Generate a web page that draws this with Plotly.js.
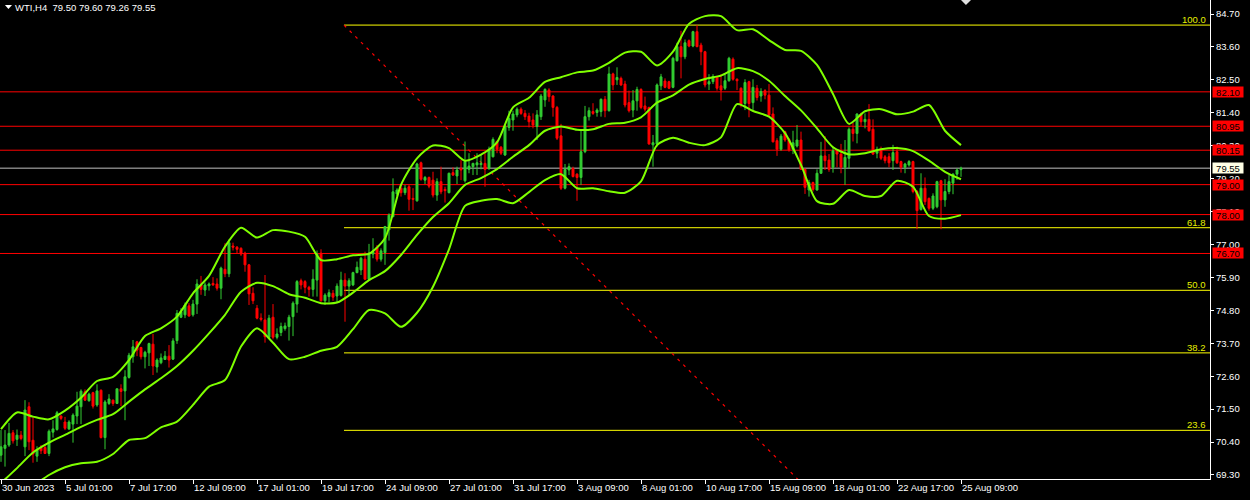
<!DOCTYPE html>
<html><head><meta charset="utf-8">
<script src="https://cdn.plot.ly/plotly-3.0.1.min.js"></script>
<style>html,body{margin:0;padding:0;background:#000;overflow:hidden}#chart{width:1250px;height:500px}</style>
</head><body><div id="chart"></div>
<script>
// ---- data ----
const symbolTitle = "WTI,H4  79.50 79.60 79.26 79.55";
const openP = [69.96,70.19,70.30,70.71,70.49,70.63,70.24,71.58,70.46,69.93,70.22,70.22,70.02,70.73,70.82,71.27,71.07,70.84,71.00,71.27,
71.58,72.08,71.78,72.05,71.64,72.13,70.55,71.69,71.80,71.69,72.18,72.11,72.56,73.25,73.75,73.56,73.25,73.38,73.67,72.91,
73.05,73.16,73.27,73.17,73.79,74.57,74.65,74.95,74.65,75.01,75.65,75.48,75.62,75.70,75.68,75.54,76.17,76.02,76.95,76.91,
76.87,76.71,76.32,75.37,74.87,74.54,74.48,73.90,74.57,73.90,74.06,74.19,74.26,74.59,75.01,75.79,75.76,75.57,75.50,75.81,
76.71,75.12,75.26,75.37,75.28,75.30,75.81,75.61,75.65,76.06,76.15,76.51,75.84,76.68,76.90,76.51,76.73,77.49,77.93,78.69,
78.88,78.73,78.93,78.54,78.46,79.73,79.15,79.24,79.15,78.65,79.10,78.84,78.73,79.40,79.29,79.54,79.13,79.51,79.60,79.66,
79.67,79.71,79.54,79.93,80.44,80.25,79.99,80.91,81.16,81.33,81.52,81.38,81.29,81.16,80.94,81.27,81.83,82.16,81.96,81.58,
80.63,78.88,79.49,79.54,79.35,79.24,80.10,81.27,81.44,81.41,81.44,81.85,81.47,82.70,82.50,82.55,82.36,81.74,81.49,81.80,
82.18,81.63,81.58,80.33,80.36,82.30,82.46,82.44,82.25,83.14,83.61,83.27,83.81,83.63,84.11,83.66,83.44,82.36,82.44,82.61,
82.30,82.22,82.47,83.19,82.52,82.22,81.71,82.44,81.74,82.22,81.96,82.14,81.99,81.36,80.47,80.18,80.77,80.51,80.18,80.29,
80.49,79.51,78.82,79.07,78.82,79.38,79.96,79.82,79.58,80.13,80.02,79.58,79.88,80.85,80.71,81.36,81.10,81.18,80.85,80.05,
80.18,79.93,79.93,79.80,80.10,79.77,79.58,79.66,79.77,78.77,78.17,78.88,78.54,78.21,78.26,79.13,78.49,78.77,79.05,79.35,
79.50];
const highP = [70.80,70.80,71.04,70.80,70.82,70.77,71.80,71.73,71.27,70.26,70.30,70.33,70.82,71.13,71.44,71.29,71.24,71.13,71.36,72.08,
72.16,72.16,72.05,72.08,72.33,72.16,71.80,72.00,71.82,72.18,72.33,72.80,73.38,73.81,73.78,73.58,73.45,73.72,74.01,73.20,
73.36,73.44,73.64,73.87,74.81,74.87,75.06,75.04,75.15,75.84,75.95,75.73,75.73,75.91,75.87,76.26,77.04,77.17,77.06,76.95,
76.91,76.76,76.35,75.57,74.98,74.70,75.98,74.65,75.01,74.20,74.39,74.39,74.65,75.10,75.81,75.86,75.81,75.62,76.17,76.80,
76.84,75.37,75.50,75.48,75.70,76.09,76.04,75.87,76.09,76.43,76.59,76.76,77.02,77.21,76.98,76.87,77.62,78.04,79.21,78.88,
78.99,78.99,78.99,78.88,79.73,79.77,79.29,79.27,79.43,79.21,79.60,78.93,79.40,79.58,79.60,79.82,80.44,80.05,79.73,80.05,
79.99,80.05,80.27,80.58,80.47,80.29,80.99,81.47,81.47,81.58,81.58,81.49,81.40,81.38,81.49,82.03,82.22,82.22,81.99,81.63,
81.03,79.69,79.71,79.60,79.38,80.82,81.63,81.58,81.72,81.55,81.88,81.96,82.94,82.74,82.92,82.61,82.47,82.14,82.16,82.27,
82.22,81.94,81.60,80.66,82.38,82.70,82.55,82.47,83.27,83.74,84.14,83.85,83.85,84.14,84.33,83.74,83.47,82.69,82.69,82.63,
82.69,82.69,83.27,83.25,82.55,82.25,82.52,82.47,82.52,82.33,82.22,82.19,82.36,81.58,80.55,80.69,80.80,80.55,80.80,80.99,
80.77,79.54,79.16,79.10,79.51,80.43,80.62,80.02,80.27,80.18,80.36,80.49,80.91,81.07,81.38,81.40,81.38,81.69,81.18,80.27,
80.27,79.99,80.05,80.33,80.27,79.80,79.73,79.82,79.80,78.82,79.38,79.24,78.57,78.71,79.13,79.16,79.18,79.32,79.38,79.54,
79.60];
const lowP = [69.74,69.58,70.24,70.35,70.27,70.46,69.93,70.13,69.71,69.74,70.00,70.00,69.93,70.55,70.78,71.13,70.80,70.80,70.38,71.00,
71.00,71.77,71.75,71.52,71.58,70.52,70.16,71.64,71.61,71.67,71.60,71.13,72.52,73.05,73.27,73.16,72.86,72.94,72.64,72.72,
73.00,73.14,72.89,73.14,73.68,74.54,74.54,74.59,74.59,74.68,75.32,75.28,75.46,75.62,75.46,75.17,75.91,75.91,76.80,76.71,
76.62,76.09,74.98,75.01,74.50,74.43,73.72,73.87,73.83,73.83,73.94,74.12,73.79,73.94,74.72,75.50,75.37,75.26,75.26,75.26,
75.09,74.98,75.06,75.12,75.06,75.26,74.42,75.31,75.61,76.04,75.98,75.81,75.81,76.54,76.43,76.43,76.32,77.13,77.91,78.62,
78.60,78.65,78.13,78.15,78.43,79.13,79.02,78.88,78.57,78.46,78.68,78.40,78.71,79.29,79.02,79.15,79.07,79.38,79.32,79.32,
79.51,78.93,79.49,79.91,80.05,79.99,79.96,80.80,80.80,81.25,81.33,81.16,80.91,80.88,80.49,81.16,81.60,81.77,81.27,80.49,
78.82,78.84,79.32,79.24,78.46,78.99,80.05,81.14,81.33,81.27,81.27,81.25,81.44,82.16,82.33,82.30,81.58,81.41,81.25,81.47,
81.52,81.44,80.33,79.60,80.27,82.16,82.22,82.19,82.22,83.11,82.55,83.19,83.59,83.59,83.59,82.99,82.25,82.16,82.36,82.14,
81.81,82.16,82.44,82.47,82.16,81.58,81.49,81.25,81.49,81.81,81.77,81.85,81.29,80.41,79.96,80.13,80.43,80.10,80.02,80.24,
79.49,78.69,78.60,78.77,78.80,79.36,79.49,79.43,79.40,79.58,79.38,78.99,79.54,80.44,80.38,80.96,80.88,80.77,79.99,79.88,
79.82,79.71,79.58,79.49,79.69,79.40,79.38,79.60,78.71,77.51,78.13,78.32,78.13,78.15,78.21,77.51,78.26,78.68,78.68,79.16,
79.26];
const closeP = [70.24,70.30,70.69,70.44,70.63,70.52,71.47,70.41,70.00,70.15,70.11,70.02,70.76,70.84,71.38,71.19,70.86,71.07,71.30,71.60,
72.10,71.80,72.00,71.60,72.11,70.55,71.74,71.84,71.69,72.18,72.09,72.58,73.30,73.58,73.47,73.25,73.40,73.69,72.94,73.14,
73.21,73.27,73.14,73.78,74.70,74.76,74.98,74.61,75.01,75.68,75.50,75.65,75.68,75.65,75.54,76.21,76.02,77.06,76.91,76.84,
76.68,76.32,75.35,75.12,74.54,74.50,73.92,74.54,73.90,74.01,74.26,74.28,74.57,75.04,75.76,75.65,75.57,75.50,75.84,76.68,
75.12,75.31,75.39,75.24,75.61,75.81,75.61,75.79,76.06,76.24,76.54,75.84,76.71,76.76,76.51,76.79,77.60,77.98,78.76,78.82,
78.73,78.88,78.51,78.51,79.69,79.18,79.24,78.95,78.65,79.10,78.76,78.80,79.38,79.32,79.49,79.49,79.77,79.62,79.71,79.73,
79.71,79.51,80.18,80.51,80.18,80.05,80.96,81.21,81.36,81.52,81.38,81.27,81.10,80.99,81.33,81.96,82.18,81.94,81.58,80.55,
78.88,79.51,79.60,79.27,79.24,80.10,81.27,81.47,81.38,81.49,81.85,81.47,82.70,82.33,82.58,82.33,81.66,81.47,81.80,82.18,
81.58,81.52,80.36,80.40,82.33,82.60,82.25,82.22,83.22,83.61,83.27,83.74,83.63,84.11,83.61,83.44,82.33,82.44,82.61,82.22,
82.16,82.47,83.22,82.52,82.47,81.69,82.41,81.71,82.25,81.91,82.11,81.99,81.33,80.43,80.18,80.62,80.49,80.16,80.40,80.49,
79.51,78.91,79.07,78.84,79.38,79.96,79.80,79.51,80.13,80.02,79.58,79.91,80.85,80.71,81.36,81.10,81.18,80.80,80.02,80.18,
79.88,79.80,79.73,80.07,79.73,79.58,79.69,79.77,78.77,78.13,78.88,78.43,78.21,78.62,79.10,78.49,78.77,79.10,79.35,79.49,
79.55];
const dateTickBars = [0,16,32,48,64,80,96,112,128,144,160,176,192,208,224,240];
const dateTickLabels = ["30 Jun 2023","5 Jul 01:00","7 Jul 17:00","12 Jul 09:00","17 Jul 01:00","19 Jul 17:00","24 Jul 09:00","27 Jul 01:00","31 Jul 17:00","3 Aug 09:00","8 Aug 01:00","10 Aug 17:00","15 Aug 09:00","18 Aug 01:00","22 Aug 17:00","25 Aug 09:00"];
const priceTicks = [69.30,70.40,71.50,72.60,73.70,74.80,75.90,77.00,78.10,79.20,80.30,81.40,82.50,83.60,84.70];
const bandBars = [0,4,8,12,16,20,24,28,32,36,40,44,48,52,56,60,64,68,72,76,80,84,88,92,96,100,104,108,112,116,120,124,128,132,136,140,144,148,152,156,160,164,168,172,176,180,184,188,192,196,200,204,208,212,216,220,224,228,232,236,240];
const bbUpper = [70.83,71.39,71.25,71.16,71.45,71.88,72.44,72.58,73.14,73.94,74.20,74.59,75.37,75.95,76.93,77.56,77.23,77.48,77.43,77.26,76.48,76.51,76.64,76.69,77.21,78.99,79.88,80.31,80.22,79.80,80.00,80.41,81.58,81.90,82.43,82.59,82.75,82.81,83.07,83.41,83.44,82.98,83.44,84.37,84.63,84.63,84.16,84.19,83.83,83.50,83.47,83.00,82.03,81.03,81.45,81.52,81.35,81.44,81.66,80.80,80.32];
const bbMiddle = [69.03,69.53,70.05,70.38,70.64,70.91,71.14,71.33,71.75,72.16,72.53,72.94,73.45,74.03,74.65,75.42,75.72,75.61,75.34,75.22,75.04,75.06,75.39,75.81,76.11,76.65,77.32,77.92,78.38,78.99,79.22,79.52,79.93,80.32,80.80,80.94,80.83,80.85,81.03,81.07,81.25,81.74,81.98,82.34,82.53,82.64,82.89,82.79,82.47,81.96,81.48,80.88,80.25,80.01,80.05,80.18,80.22,80.12,79.80,79.43,79.18];
const lowerBars = [8,12,16,20,24,28,32,36,40,44,48,52,56,60,64,68,72,76,80,84,88,92,96,100,104,108,112,116,120,124,128,132,136,140,144,148,152,156,160,164,168,172,176,180,184,188,192,196,200,204,208,212,216,220,224,228,232,236,240];
const bbLower = [68.93,69.30,69.56,69.69,69.74,70.00,70.47,70.53,70.89,71.08,71.64,72.25,72.47,73.59,74.20,73.72,73.17,73.25,73.45,73.58,74.17,74.81,74.70,74.25,74.72,75.59,76.84,78.29,78.46,78.52,78.38,78.75,79.15,79.35,78.88,78.88,78.78,78.73,79.11,80.32,80.57,80.40,80.32,80.58,81.69,81.46,81.27,80.72,79.66,78.45,78.36,78.82,78.62,78.62,79.13,78.93,77.95,77.86,77.98];
const levelLines = [82.10,80.95,80.15,79.00,78.00,76.70];
const bidPrice = 79.55;
const fibLevels = [100.0,61.8,50.0,38.2,23.6];
const fibHigh = 84.33, fibLow = 66.61;
const fibStartBar = 85.75, fibEndBar = 218.25;

// ---- chart ----
const FONT = "Liberation Sans, Arial, sans-serif";
const FS = 9.5;
const xRange = [-0.25, 302.25];
const yRange = [69.166, 85.168];
const bars = closeP.map((_, i) => i);
const GREEN = "#32CD32", RED = "#FF0000", BAND = "#7FFF00";
const bandLine = {color:BAND, width:2, shape:"spline", smoothing:0.7};

const traces = [
  {type:"scatter", mode:"lines", x:bandBars, y:bbUpper, line:bandLine, hoverinfo:"skip"},
  {type:"scatter", mode:"lines", x:bandBars, y:bbMiddle, line:bandLine, hoverinfo:"skip"},
  {type:"scatter", mode:"lines", x:lowerBars, y:bbLower, line:bandLine, hoverinfo:"skip"},
  {type:"candlestick", x:bars, open:openP, high:highP, low:lowP, close:closeP,
   increasing:{line:{color:GREEN,width:1}, fillcolor:GREEN},
   decreasing:{line:{color:RED,width:1}, fillcolor:RED},
   whiskerwidth:0, hoverinfo:"skip"}
];

const shapes = [];
const annotations = [];
levelLines.forEach(v => {
  shapes.push({type:"line", xref:"paper", x0:0, x1:1, yref:"y", y0:v, y1:v, line:{color:RED,width:1}, layer:"below"});
  annotations.push({xref:"paper", x:1, xanchor:"left", xshift:2, yref:"y", y:v, yanchor:"middle",
    text:v.toFixed(2), showarrow:false, bgcolor:RED, width:30, height:10, borderpad:0,
    font:{family:FONT,size:FS,color:"#000"}});
});
shapes.push({type:"line", xref:"paper", x0:0, x1:1, yref:"y", y0:bidPrice, y1:bidPrice, line:{color:"#C0C0C0",width:1}, layer:"below"});
annotations.push({xref:"paper", x:1, xanchor:"left", xshift:2, yref:"y", y:bidPrice, yanchor:"middle",
  text:bidPrice.toFixed(2), showarrow:false, bgcolor:"#FFFFE6", width:30, height:10, borderpad:0,
  font:{family:FONT,size:FS,color:"#000"}});

fibLevels.forEach(l => {
  const p = fibLow + (fibHigh - fibLow) * l / 100;
  shapes.push({type:"line", xref:"x", x0:fibStartBar, x1:xRange[1], yref:"y", y0:p, y1:p, line:{color:"#FFFF00",width:1}, layer:"below"});
  annotations.push({xref:"paper", x:1, xanchor:"right", xshift:-2, yref:"y", y:p, yanchor:"bottom", yshift:-2,
    text:l.toFixed(1), showarrow:false, font:{family:FONT,size:FS,color:"#E6F000"}});
});
shapes.push({type:"line", xref:"x", yref:"y", x0:fibStartBar, y0:fibHigh, x1:fibEndBar, y1:fibLow,
  line:{color:"#FF0000",width:1.2,dash:"3px,5px"}, layer:"below"});

// small markers
shapes.push({type:"path", xref:"paper", yref:"paper", path:"M 0.0041 0.9896 L 0.0099 0.9896 L 0.0070 0.9812 Z", fillcolor:"#FFFFFF", line:{width:0}});
shapes.push({type:"path", xref:"paper", yref:"paper", path:"M 0.7942 1.0 L 0.8025 1.0 L 0.7983 0.9896 Z", fillcolor:"#E0E0E0", line:{width:0}});

annotations.push({xref:"paper", yref:"paper", x:0, y:1, xanchor:"left", yanchor:"top", xshift:13, yshift:0,
  text:symbolTitle, showarrow:false, font:{family:FONT,size:FS,color:"#FFFFFF"}});

const layout = {
  width:1250, height:500,
  margin:{l:0, r:40, t:0, b:21, pad:0},
  paper_bgcolor:"#000", plot_bgcolor:"#000",
  showlegend:false, hovermode:false,
  xaxis:{range:xRange, tickmode:"array", tickvals:dateTickBars, ticktext:dateTickLabels, tickangle:0,
    ticks:"outside", ticklen:4, tickcolor:"#FFFFFF", showline:true, linecolor:"#FFFFFF", linewidth:1,
    showgrid:false, zeroline:false, rangeslider:{visible:false}, ticklabelposition:"outside right",
    tickfont:{family:FONT,size:FS,color:"#FFFFFF"}, fixedrange:true},
  yaxis:{side:"right", range:yRange, tickmode:"array", tickvals:priceTicks, ticktext:priceTicks.map(v=>v.toFixed(2)),
    ticks:"outside", ticklen:3, tickcolor:"#FFFFFF", showline:true, linecolor:"#FFFFFF", linewidth:1,
    showgrid:false, zeroline:false, tickfont:{family:FONT,size:FS,color:"#FFFFFF"}, fixedrange:true},
  shapes:shapes, annotations:annotations
};
Plotly.newPlot("chart", traces, layout, {staticPlot:true, displayModeBar:false});
</script></body></html>
